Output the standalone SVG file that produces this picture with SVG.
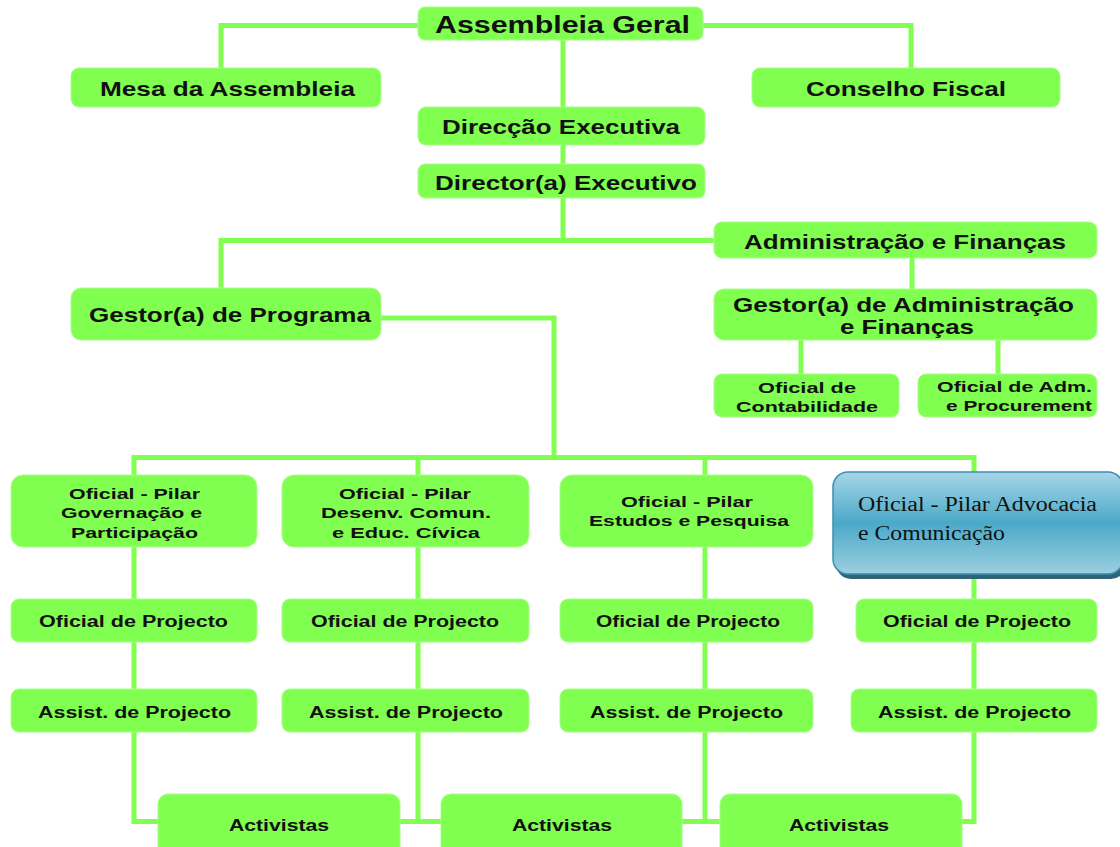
<svg xmlns="http://www.w3.org/2000/svg" width="1120" height="847" viewBox="0 0 1120 847">
<defs>
<style>
.n{fill:#80FF50;stroke:#A6FF8A;stroke-width:1}
.c{fill:none;stroke:#80FF50;stroke-width:5}
.t{font-family:"Liberation Sans",Arial,sans-serif;font-weight:bold;fill:#111;}
.L{font-size:21px}
.M{font-size:16px}
.S{font-size:15px}
.b{font-family:"Liberation Serif","Times New Roman",serif;font-size:20px;fill:#111}
</style>
<linearGradient id="bl" x1="0" y1="0" x2="0" y2="1">
<stop offset="0" stop-color="#A8D6E6"/>
<stop offset="0.5" stop-color="#4AA9C9"/>
<stop offset="1" stop-color="#9CCFE0"/>
</linearGradient>
</defs>
<rect width="1120" height="847" fill="#fff"/>
<g id="connectors">
<path class="c" d="M418,25.5H221V68"/>
<path class="c" d="M703,25.5H911V68"/>
<path class="c" d="M563,40V240.5"/>
<path class="c" d="M221,288V240.5H714"/>
<path class="c" d="M912,258V289"/>
<path class="c" d="M801,340V374"/>
<path class="c" d="M998,340V374"/>
<path class="c" d="M381,318H554V457.5"/>
<path class="c" d="M134,475V457.5H974V472"/>
<path class="c" d="M418,457.5V475"/>
<path class="c" d="M705,457.5V475"/>
<path class="c" d="M134,547V821.5H158"/>
<path class="c" d="M418,547V821.5"/>
<path class="c" d="M400,821.5H441"/>
<path class="c" d="M705,547V821.5"/>
<path class="c" d="M682,821.5H720"/>
<path class="c" d="M974,576V821.5H962"/>
</g>
<g id="assembleia-geral">
<rect class="n" x="418" y="7" width="285" height="33" rx="7"/>
<text class="t" x="435" y="33" font-size="23" textLength="255" lengthAdjust="spacingAndGlyphs">Assembleia Geral</text>
</g>
<g id="mesa-assembleia">
<rect class="n" x="71" y="68" width="310" height="39" rx="8"/>
<text class="t L" x="100" y="96" textLength="255" lengthAdjust="spacingAndGlyphs">Mesa da Assembleia</text>
</g>
<g id="conselho-fiscal">
<rect class="n" x="752" y="68" width="308" height="39" rx="8"/>
<text class="t L" x="806" y="96" textLength="200" lengthAdjust="spacingAndGlyphs">Conselho Fiscal</text>
</g>
<g id="direccao-executiva">
<rect class="n" x="418" y="107" width="287" height="38" rx="8"/>
<text class="t L" x="442" y="134" textLength="238" lengthAdjust="spacingAndGlyphs">Direcção Executiva</text>
</g>
<g id="director-executivo">
<rect class="n" x="418" y="164" width="287" height="34" rx="7"/>
<text class="t L" x="435" y="190" textLength="262" lengthAdjust="spacingAndGlyphs">Director(a) Executivo</text>
</g>
<g id="administracao-financas">
<rect class="n" x="714" y="222" width="383" height="36" rx="8"/>
<text class="t L" x="744" y="249" textLength="322" lengthAdjust="spacingAndGlyphs">Administração e Finanças</text>
</g>
<g id="gestor-programa">
<rect class="n" x="71" y="288" width="310" height="52" rx="10"/>
<text class="t L" x="89" y="322" textLength="282" lengthAdjust="spacingAndGlyphs">Gestor(a) de Programa</text>
</g>
<g id="gestor-administracao">
<rect class="n" x="714" y="289" width="383" height="51" rx="10"/>
<text class="t L" x="733" y="312" textLength="341" lengthAdjust="spacingAndGlyphs">Gestor(a) de Administração</text>
<text class="t L" x="840" y="334" textLength="134" lengthAdjust="spacingAndGlyphs">e Finanças</text>
</g>
<g id="oficial-contabilidade">
<rect class="n" x="714" y="374" width="185" height="43" rx="8"/>
<text class="t S" x="758" y="393" textLength="98" lengthAdjust="spacingAndGlyphs">Oficial de</text>
<text class="t S" x="736" y="412" textLength="142" lengthAdjust="spacingAndGlyphs">Contabilidade</text>
</g>
<g id="oficial-procurement">
<rect class="n" x="918" y="374" width="179" height="43" rx="8"/>
<text class="t S" x="937" y="392" textLength="155" lengthAdjust="spacingAndGlyphs">Oficial de Adm.</text>
<text class="t S" x="946" y="411" textLength="146" lengthAdjust="spacingAndGlyphs">e Procurement</text>
</g>
<g id="pilar-governacao">
<rect class="n" x="11" y="475" width="246" height="72" rx="12"/>
<text class="t S" x="69" y="499" textLength="131" lengthAdjust="spacingAndGlyphs">Oficial - Pilar</text>
<text class="t S" x="61" y="518" textLength="141" lengthAdjust="spacingAndGlyphs">Governação e</text>
<text class="t S" x="71" y="538" textLength="127" lengthAdjust="spacingAndGlyphs">Participação</text>
</g>
<g id="pilar-desenvolvimento">
<rect class="n" x="282" y="475" width="247" height="72" rx="12"/>
<text class="t S" x="339" y="499" textLength="132" lengthAdjust="spacingAndGlyphs">Oficial - Pilar</text>
<text class="t S" x="321" y="518" textLength="170" lengthAdjust="spacingAndGlyphs">Desenv. Comun.</text>
<text class="t S" x="332" y="538" textLength="148" lengthAdjust="spacingAndGlyphs">e Educ. Cívica</text>
</g>
<g id="pilar-estudos">
<rect class="n" x="560" y="475" width="253" height="72" rx="12"/>
<text class="t S" x="621" y="507" textLength="132" lengthAdjust="spacingAndGlyphs">Oficial - Pilar</text>
<text class="t S" x="589" y="526" textLength="200" lengthAdjust="spacingAndGlyphs">Estudos e Pesquisa</text>
</g>
<g id="pilar-advocacia">
<rect x="836" y="476" width="290" height="103" rx="15" fill="#2E6478"/>
<rect x="833" y="472" width="290" height="102" rx="15" fill="url(#bl)" stroke="#3A8FAE" stroke-width="1.5"/>
<text class="b" x="858" y="511" textLength="239" lengthAdjust="spacingAndGlyphs">Oficial - Pilar Advocacia</text>
<text class="b" x="858" y="540" textLength="147" lengthAdjust="spacingAndGlyphs">e Comunicação</text>
</g>
<g id="oficial-projecto-1">
<rect class="n" x="11" y="599" width="246" height="43" rx="8"/>
<text class="t M" x="39" y="627" textLength="189" lengthAdjust="spacingAndGlyphs">Oficial de Projecto</text>
</g>
<g id="oficial-projecto-2">
<rect class="n" x="282" y="599" width="247" height="43" rx="8"/>
<text class="t M" x="311" y="627" textLength="188" lengthAdjust="spacingAndGlyphs">Oficial de Projecto</text>
</g>
<g id="oficial-projecto-3">
<rect class="n" x="560" y="599" width="253" height="43" rx="8"/>
<text class="t M" x="596" y="627" textLength="184" lengthAdjust="spacingAndGlyphs">Oficial de Projecto</text>
</g>
<g id="oficial-projecto-4">
<rect class="n" x="856" y="599" width="241" height="43" rx="8"/>
<text class="t M" x="883" y="627" textLength="188" lengthAdjust="spacingAndGlyphs">Oficial de Projecto</text>
</g>
<g id="assist-projecto-1">
<rect class="n" x="11" y="689" width="246" height="43" rx="8"/>
<text class="t M" x="38" y="718" textLength="193" lengthAdjust="spacingAndGlyphs">Assist. de Projecto</text>
</g>
<g id="assist-projecto-2">
<rect class="n" x="282" y="689" width="247" height="43" rx="8"/>
<text class="t M" x="309" y="718" textLength="194" lengthAdjust="spacingAndGlyphs">Assist. de Projecto</text>
</g>
<g id="assist-projecto-3">
<rect class="n" x="560" y="689" width="253" height="43" rx="8"/>
<text class="t M" x="590" y="718" textLength="193" lengthAdjust="spacingAndGlyphs">Assist. de Projecto</text>
</g>
<g id="assist-projecto-4">
<rect class="n" x="851" y="689" width="246" height="43" rx="8"/>
<text class="t M" x="878" y="718" textLength="193" lengthAdjust="spacingAndGlyphs">Assist. de Projecto</text>
</g>
<g id="activistas-1">
<rect class="n" x="158" y="794" width="242" height="70" rx="10"/>
<text class="t M" x="229" y="831" textLength="100" lengthAdjust="spacingAndGlyphs">Activistas</text>
</g>
<g id="activistas-2">
<rect class="n" x="441" y="794" width="241" height="70" rx="10"/>
<text class="t M" x="512" y="831" textLength="100" lengthAdjust="spacingAndGlyphs">Activistas</text>
</g>
<g id="activistas-3">
<rect class="n" x="720" y="794" width="242" height="70" rx="10"/>
<text class="t M" x="789" y="831" textLength="100" lengthAdjust="spacingAndGlyphs">Activistas</text>
</g>
</svg>
